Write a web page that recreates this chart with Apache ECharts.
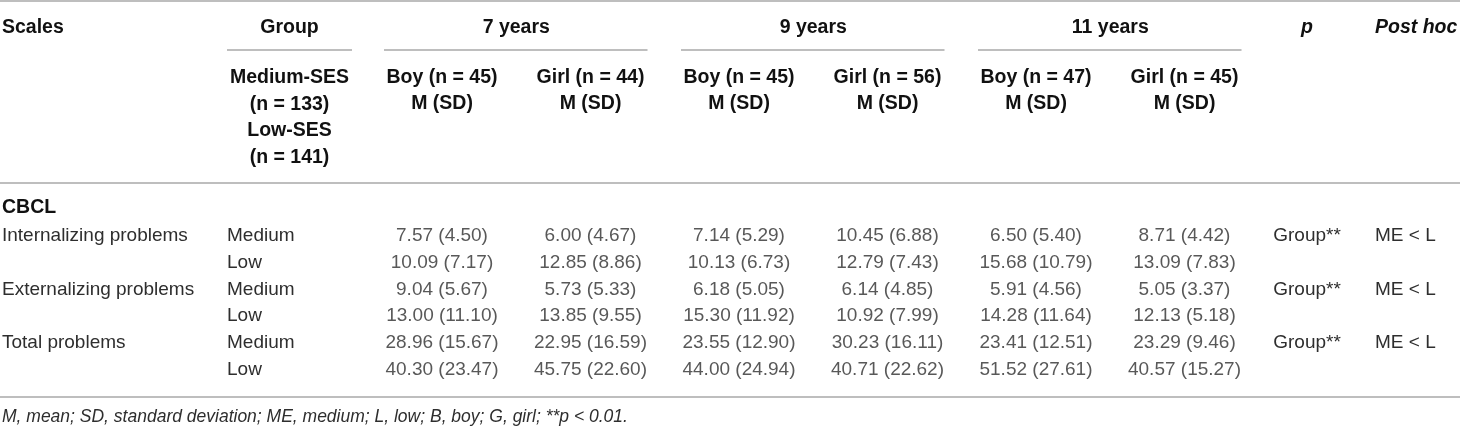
<!DOCTYPE html>
<html><head><meta charset="utf-8">
<script src="https://cdn.jsdelivr.net/npm/echarts@6/dist/echarts.min.js"></script>
<style>html,body{margin:0;padding:0;background:#fff}#c{width:1460px;height:427px}</style>
</head><body><div id="c"></div>
<script>
// ---- data ----
const ageGroups = ['7 years', '9 years', '11 years'];
const columnHeaders = ['Boy (n = 45)', 'Girl (n = 44)', 'Boy (n = 45)', 'Girl (n = 56)', 'Boy (n = 47)', 'Girl (n = 45)'];
const scales = ['Internalizing problems', 'Externalizing problems', 'Total problems'];
const groups = ['Medium', 'Low'];
const groupHeader = ['Medium-SES', '(n = 133)', 'Low-SES', '(n = 141)'];
const means = [
  [7.57, 6.00, 7.14, 10.45, 6.50, 8.71],
  [10.09, 12.85, 10.13, 12.79, 15.68, 13.09],
  [9.04, 5.73, 6.18, 6.14, 5.91, 5.05],
  [13.00, 13.85, 15.30, 10.92, 14.28, 12.13],
  [28.96, 22.95, 23.55, 30.23, 23.41, 23.29],
  [40.30, 45.75, 44.00, 40.71, 51.52, 40.57]
];
const sds = [
  [4.50, 4.67, 5.29, 6.88, 5.40, 4.42],
  [7.17, 8.86, 6.73, 7.43, 10.79, 7.83],
  [5.67, 5.33, 5.05, 4.85, 4.56, 3.37],
  [11.10, 9.55, 11.92, 7.99, 11.64, 5.18],
  [15.67, 16.59, 12.90, 16.11, 12.51, 9.46],
  [23.47, 22.60, 24.94, 22.62, 27.61, 15.27]
];
const pValues = ['Group**', 'Group**', 'Group**'];
const postHoc = ['ME < L', 'ME < L', 'ME < L'];
const footnote = 'M, mean; SD, standard deviation; ME, medium; L, low; B, boy; G, girl; **p < 0.01.';

// ---- layout ----
const FONT = '"Liberation Sans", Arial, Helvetica, sans-serif';
const BODY = '19px ' + FONT;
const BOLD = 'bold 19.5px ' + FONT;
const TXT = '#2e2e2e', HEAD = '#111', RULE = '#a8a8a8';

const rowIds = [];
scales.forEach(s => groups.forEach(g => rowIds.push(s + '|' + g)));
const cells = [];
means.forEach((r, j) => r.forEach((m, i) => cells.push([i, j, m, sds[j][i]])));

const chart = echarts.init(document.getElementById('c'), null, {renderer: 'canvas'});
chart.setOption({
  animation: false,
  grid: {left: 367.75, width: 891, top: 222.6, height: 160.5},
  xAxis: {type: 'category', data: columnHeaders, show: false},
  yAxis: {
    type: 'category', data: rowIds, inverse: true,
    axisLine: {show: false}, axisTick: {show: false}, splitLine: {show: false},
    axisLabel: {
      align: 'left', margin: 140.75, color: TXT, fontSize: 19, fontFamily: FONT,
      formatter: v => v.split('|')[1]
    }
  },
  series: [{
    type: 'scatter', data: cells, symbolSize: 1,
    itemStyle: {color: 'rgba(0,0,0,0)'},
    label: {
      show: true, position: 'inside', color: TXT, fontSize: 19, fontFamily: FONT,
      formatter: p => p.data[2].toFixed(2) + ' (' + p.data[3].toFixed(2) + ')'
    }
  }]
});

function txt(text, x, y, font, align, color) {
  return {type: 'text', silent: true,
    style: {text: text, x: x, y: y, font: font, fill: color || TXT,
      align: align || 'center', verticalAlign: 'middle',
      textAlign: align || 'center', textVerticalAlign: 'middle'}};
}
function rule(x1, x2, y) {
  return {type: 'line', silent: true, shape: {x1: x1, y1: y, x2: x2, y2: y},
    style: {stroke: RULE, lineWidth: 1.5}};
}
const colX = columnHeaders.map((_, i) => chart.convertToPixel({xAxisIndex: 0}, i));
const rowY = rowIds.map((_, j) => chart.convertToPixel({yAxisIndex: 0}, j));

const g = [];
g.push(rule(0, 1460, 1), rule(0, 1460, 183), rule(0, 1460, 397));
g.push(txt('Scales', 2, 28, BOLD, 'left', HEAD));
g.push(txt('Group', 289.5, 28, BOLD, 'center', HEAD));
g.push(rule(227, 352, 50));
groupHeader.forEach((t, k) => g.push(txt(t, 289.5, 78 + k * 26.5, BOLD, 'center', HEAD)));
ageGroups.forEach((t, k) => {
  const a = colX[2 * k], b = colX[2 * k + 1];
  g.push(txt(t, (a + b) / 2, 28, BOLD, 'center', HEAD));
  g.push(rule(a - 58, b + 57, 50));
});
columnHeaders.forEach((t, i) => {
  g.push(txt(t, colX[i], 78, BOLD, 'center', HEAD));
  g.push(txt('M (SD)', colX[i], 103.5, BOLD, 'center', HEAD));
});
g.push(txt('p', 1307, 28, 'italic bold 19.5px ' + FONT, 'center', HEAD));
g.push(txt('Post hoc', 1375, 28, 'italic bold 19.5px ' + FONT, 'left', HEAD));
g.push(txt('CBCL', 2, 208, BOLD, 'left', HEAD));
scales.forEach((s, k) => {
  const y = rowY[2 * k];
  g.push(txt(s, 2, y, BODY, 'left'));
  g.push(txt(pValues[k], 1307, y, BODY, 'center'));
  g.push(txt(postHoc[k], 1375, y, BODY, 'left'));
});
g.push(txt(footnote, 2, 417, 'italic 17.5px ' + FONT, 'left'));
chart.setOption({graphic: g});
</script>
</body></html>
